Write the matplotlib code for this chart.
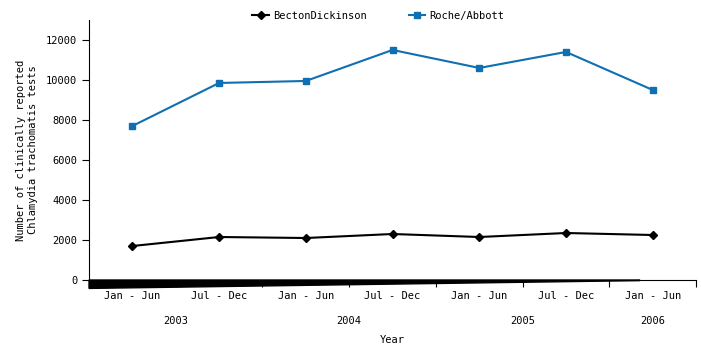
import matplotlib.pyplot as plt

# data
periods = ['Jan - Jun', 'Jul - Dec', 'Jan - Jun', 'Jul - Dec', 'Jan - Jun', 'Jul - Dec', 'Jan - Jun']
years = ['2003', '2004', '2005', '2006']
year_pos = [1.0, 3.0, 5.0, 6.5]
becton = [1700, 2150, 2100, 2300, 2150, 2350, 2250]
roche = [7700, 9850, 9950, 11500, 10600, 11400, 9500]

blue = '#0f6fb0'
plt.rcParams['font.family'] = ['DejaVu Sans Mono', 'DejaVu Sans']

fig = plt.figure(figsize=(7.01, 3.44), dpi=100)
ax = fig.add_axes([0.127, 0.186, 0.866, 0.756])

x = [i + 0.5 for i in range(len(periods))]
ax.plot(x, becton, '-D', color='black', markersize=4, linewidth=1.5, label='BectonDickinson')
ax.plot(x, roche, '-s', color=blue, markersize=4.5, linewidth=1.5, label='Roche/Abbott')

ax.set_xlim(0, 7)
ax.set_ylim(0, 13000)
ax.set_yticks(range(0, 13000, 2000))
ax.set_xticks(range(8))
ax.set_xticklabels([])
ax.set_xticks(x, minor=True)
ax.set_xticklabels(periods, minor=True)
ax.tick_params(axis='x', which='minor', length=0, pad=8, labelsize=7.5)
ax.tick_params(axis='x', which='major', length=5)
ax.tick_params(axis='y', length=5, labelsize=7.5)

for y, p in zip(years, year_pos):
    ax.text(p, -2050, y, ha='center', va='center', fontsize=7.5)
ax.text(3.5, -3000, 'Year', ha='center', va='center', fontsize=7.5)

# the thick wedge along the bottom axis
ax.fill([0, 6.35, 6.35, 0], [0, 0, -30, -420], color='black', clip_on=False, zorder=3)

for s in ['top', 'right']:
    ax.spines[s].set_visible(False)

ax.set_ylabel('Number of clinically reported\nChlamydia trachomatis tests', fontsize=7.5, labelpad=6)

fig.legend(loc='upper center', bbox_to_anchor=(0.54, 0.995), ncol=2, frameon=False,
           fontsize=7.5, handlelength=1.6, handletextpad=0.4, columnspacing=4.0)

fig.savefig('out.png', dpi=100)
